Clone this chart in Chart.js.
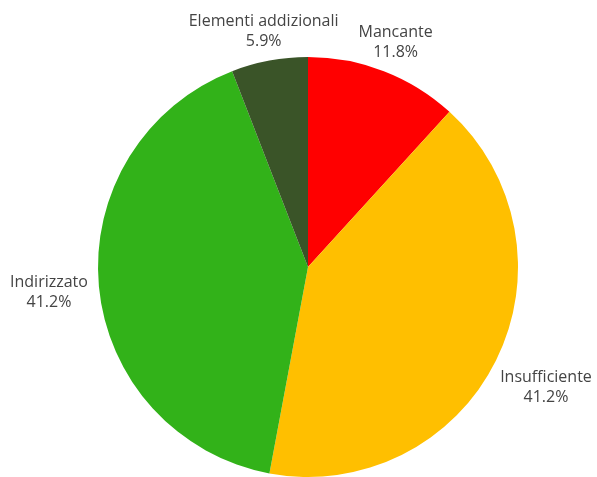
<!DOCTYPE html>
<html>
<head>
<meta charset="utf-8">
<script src="https://cdn.jsdelivr.net/npm/chart.js@4"></script>
<style>
  html, body { margin: 0; padding: 0; background: #fff; }
  #wrap { width: 597px; height: 477px; }
</style>
</head>
<body>
<div id="wrap"><canvas id="torta"></canvas></div>
<script>
var categorie = ["Mancante", "Insufficiente", "Indirizzato", "Elementi addizionali"];
var valori = [2, 7, 7, 1];
var colori = ["#ff0000", "#ffbf00", "#32b219", "#3a5428"];

Chart.defaults.font.family = "'Open Sans', sans-serif";
Chart.defaults.font.size = 16;

var totale = valori.reduce(function (a, b) { return a + b; }, 0);

// etichette fuori dalla torta, come nel grafico originale
var etichetteFuori = {
  id: "etichetteFuori",
  afterDatasetsDraw: function (chart) {
    var ctx = chart.ctx;
    var meta = chart.getDatasetMeta(0);
    ctx.save();
    ctx.font = "16px 'Open Sans', sans-serif";
    ctx.fillStyle = "#444";
    ctx.textAlign = "center";
    ctx.textBaseline = "alphabetic";
    meta.data.forEach(function (arc, i) {
      var p = arc.getProps(["x", "y", "startAngle", "endAngle", "outerRadius"], true);
      var mid = (p.startAngle + p.endAngle) / 2;
      var riga1 = categorie[i];
      var riga2 = (valori[i] / totale * 100).toFixed(1) + "%";
      var w = Math.max(ctx.measureText(riga1).width, ctx.measureText(riga2).width);
      var h = 40;
      var c = Math.cos(mid), s = Math.sin(mid);
      var uscita = Math.min(Math.abs(c) > 1e-6 ? (w / 2) / Math.abs(c) : 1e9,
                            Math.abs(s) > 1e-6 ? (h / 2) / Math.abs(s) : 1e9);
      var d = p.outerRadius + 11 + uscita;
      var cx = p.x + c * d;
      var cy = p.y + s * d;
      ctx.fillText(riga1, cx, cy - 4);
      ctx.fillText(riga2, cx, cy + 16);
    });
    ctx.restore();
  }
};

var torta = document.getElementById("torta");
var grafico = new Chart(torta, {
  type: "pie",
  data: {
    labels: categorie,
    datasets: [
      {
        data: valori,
        backgroundColor: colori,
        borderWidth: 0,
      },
    ],
  },
  options: {
    responsive: true,
    maintainAspectRatio: false,
    animation: false,
    layout: {
      padding: { top: 57, bottom: 0, left: 98, right: 79 },
    },
    plugins: {
      legend: { display: false },
      tooltip: { enabled: false },
    },
  },
  plugins: [etichetteFuori],
});
</script>
</body>
</html>
